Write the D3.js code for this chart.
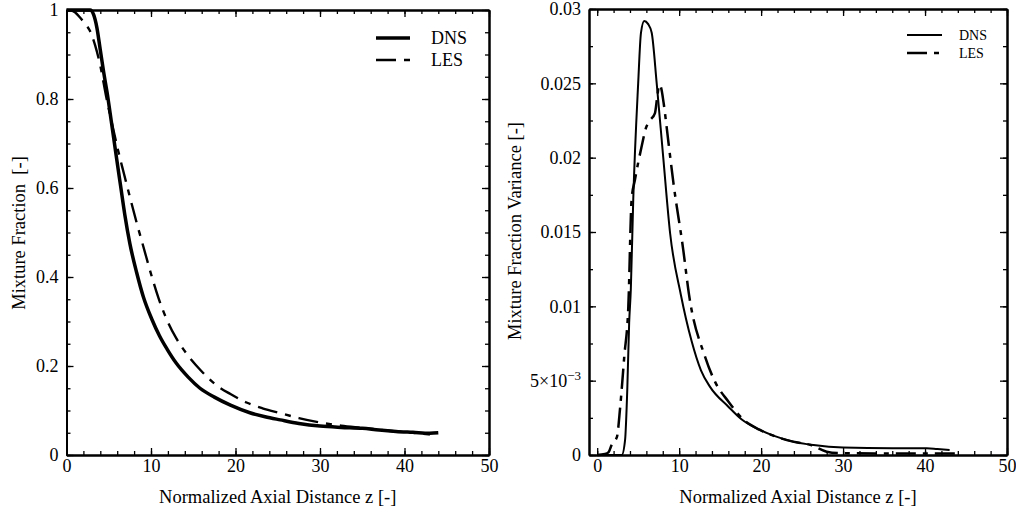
<!DOCTYPE html>
<html>
<head>
<meta charset="utf-8">
<script src="https://cdn.jsdelivr.net/npm/d3@7"></script>
<style>
  body { margin: 0; background: #fff; }
  svg text { font-family: 'Liberation Serif', serif; fill: #000; }
  .axis path, .axis line { stroke: #000; }
  .axis path { stroke-width: 2px; }
  .axis line { stroke-width: 1.3px; }
  .axis text { font-size: 18px; }
  .title { font-size: 18.5px; white-space: pre; }
</style>
</head>
<body>
<svg id="chart" width="1016" height="512" font-family="Liberation Serif"></svg>
<script>
// mean mixture fraction along the axis
const meanDnsZ = [0, 1, 2, 2.8, 3.2, 3.6, 4.0, 4.4, 4.8, 5.3, 5.9, 6.4, 6.9, 7.5, 8.3, 9.1, 10.1, 11, 11.9, 13, 14.4, 15.8, 17.5, 19.4, 21.7, 23.5, 25.3, 27.5, 30, 32.5, 35, 37, 39, 41, 43, 44];
const meanDns  = [1, 1, 1, 1, 0.99, 0.96, 0.91, 0.86, 0.815, 0.75, 0.67, 0.605, 0.54, 0.475, 0.41, 0.355, 0.305, 0.268, 0.238, 0.206, 0.175, 0.15, 0.13, 0.112, 0.095, 0.086, 0.079, 0.071, 0.065, 0.062, 0.06, 0.056, 0.053, 0.051, 0.049, 0.05];
const meanLesZ = [0, 0.5, 1, 1.6, 2.2, 2.8, 3.4, 4.0, 4.7, 5.5, 6.1, 6.8, 7.5, 8.3, 9.1, 10, 10.9, 11.9, 13, 14.2, 15.9, 17.8, 19.4, 21.3, 23.2, 25.3, 27.5, 30, 32.5, 35, 37, 39, 41, 43];
const meanLes  = [1, 0.999, 0.995, 0.983, 0.969, 0.952, 0.92, 0.875, 0.805, 0.735, 0.685, 0.632, 0.58, 0.522, 0.468, 0.407, 0.352, 0.303, 0.262, 0.228, 0.19, 0.156, 0.137, 0.118, 0.105, 0.094, 0.083, 0.073, 0.066, 0.061, 0.057, 0.053, 0.05, 0.046];

// mixture fraction variance along the axis
const varDnsZ = [0, 3.0, 3.4, 3.67, 3.9, 4.1, 4.4, 5.0, 5.34, 5.74, 6.2, 6.65, 7.26, 8.06, 8.9, 10.2, 11.5, 12.66, 13.75, 16, 17.6, 19.8, 21.5, 23.9, 26.4, 30, 36, 40.2, 41.5, 43];
const varDns  = [0, 0, 0.001, 0.0044, 0.0089, 0.0111, 0.0172, 0.025, 0.0284, 0.0292, 0.029, 0.0284, 0.025, 0.02, 0.0149, 0.0108, 0.0077, 0.0057, 0.0046, 0.00325, 0.0024, 0.0017, 0.0013, 0.0009, 0.00067, 0.0005, 0.00045, 0.00045, 0.0004, 0.00034];
const varLesZ = [0, 0.95, 1.4, 1.77, 2.4, 2.8, 3.3, 3.8, 4.2, 4.6, 5.4, 5.95, 6.44, 7.05, 7.33, 7.57, 7.8, 8.1, 8.7, 9.3, 10.5, 11.2, 13.1, 14.4, 16, 17.8, 19.8, 21.5, 23.9, 26, 28, 29.3, 35, 43.8];
const varLes  = [0, 0.00007, 0.0002, 0.0007, 0.0012, 0.0032, 0.0066, 0.01, 0.0172, 0.0185, 0.0207, 0.022, 0.0225, 0.023, 0.0241, 0.0249, 0.0247, 0.0237, 0.021, 0.0183, 0.0138, 0.0108, 0.0067, 0.0049, 0.0036, 0.0024, 0.0017, 0.0013, 0.0009, 0.00068, 0.00022, 0.00013, 0.0001, 0.0001];

const seriesNames = ['DNS', 'LES'];
const leftYTicks = [0, 0.2, 0.4, 0.6, 0.8, 1];
const leftYLabels = ['0', '0.2', '0.4', '0.6', '0.8', '1'];
const rightYTicks = [0, 0.005, 0.01, 0.015, 0.02, 0.025, 0.03];
const rightYLabels = ['0', '5×10|−3', '0.01', '0.015', '0.02', '0.025', '0.03'];
const xTicks = [0, 10, 20, 30, 40, 50];

const svg = d3.select('#chart');

function zip(zs, vs) { return zs.map((z, i) => ({ z: z, v: vs[i] })); }

// d3 axes put font-family="sans-serif" on their group, drop it
function axis(g, a) {
	g.call(a).attr('font-family', null).attr('font-size', null);
	return g;
}

function panel(o) {
	let x = d3.scaleLinear().domain(o.xDomain).range(o.xRange);
	let y = d3.scaleLinear().domain(o.yDomain).range(o.yRange);
	let [x0, x1] = o.xRange, [y0, y1] = o.yRange;
	let g = svg.append('g');

	let xMinor = d3.range(0, 50.1, 2), yMinor = d3.range(0, o.yDomain[1] + 1e-9, o.yMinor);
	let ax = (t) => g.append('g').attr('class', 'axis').attr('transform', t);

	// minor ticks on all four sides
	axis(ax(`translate(0,${y0})`), d3.axisBottom(x).tickValues(xMinor).tickFormat('').tickSize(-4).tickSizeOuter(0));
	axis(ax(`translate(0,${y1})`), d3.axisTop(x).tickValues(xMinor).tickFormat('').tickSize(-4).tickSizeOuter(0));
	axis(ax(`translate(${x0},0)`), d3.axisLeft(y).tickValues(yMinor).tickFormat('').tickSize(-4).tickSizeOuter(0));
	axis(ax(`translate(${x1},0)`), d3.axisRight(y).tickValues(yMinor).tickFormat('').tickSize(-4).tickSizeOuter(0));

	// major ticks
	axis(ax(`translate(0,${y0})`), d3.axisBottom(x).tickValues(xTicks).tickFormat(d3.format('d')).tickSize(-7).tickSizeOuter(0).tickPadding(4));
	axis(ax(`translate(0,${y1})`), d3.axisTop(x).tickValues(xTicks).tickFormat('').tickSize(-7).tickSizeOuter(0));
	let ya = axis(ax(`translate(${x0},0)`), d3.axisLeft(y).tickValues(o.yTicks).tickFormat((d, i) => o.yLabels[i]).tickSize(-7).tickSizeOuter(0).tickPadding(8));
	axis(ax(`translate(${x1},0)`), d3.axisRight(y).tickValues(o.yTicks).tickFormat('').tickSize(-7).tickSizeOuter(0));

	// superscript labels like 5×10^-3
	ya.selectAll('.tick text').each(function() {
		let t = d3.select(this), s = t.text();
		if (s.indexOf('|') < 0) return;
		let [base, exp] = s.split('|');
		t.text(null);
		t.append('tspan').text(base);
		t.append('tspan').attr('dy', '-0.5em').attr('font-size', '13px').text(exp);
	});

	let line = d3.line().x(d => x(d.z)).y(d => y(d.v)).curve(d3.curveMonotoneX);

	g.append('path').datum(o.dns).attr('d', line)
		.attr('fill', 'none').attr('stroke', '#000').attr('stroke-width', o.dnsW).attr('stroke-linejoin', 'round');
	g.append('path').datum(o.les).attr('d', line)
		.attr('fill', 'none').attr('stroke', '#000').attr('stroke-width', o.lesW).attr('stroke-dasharray', o.dash);

	// axis titles
	g.append('text').attr('class', 'title').attr('x', (x0 + x1) / 2).attr('y', 503)
		.attr('text-anchor', 'middle').text('Normalized Axial Distance z [-]');
	g.append('text').attr('class', 'title').attr('transform', `translate(${o.yTitleX},${o.yTitleY}) rotate(-90)`)
		.attr('text-anchor', 'middle').text(o.yTitle);

	// legend
	let lg = g.append('g').attr('transform', `translate(${o.legend[0]},${o.legend[1]})`);
	seriesNames.forEach((name, i) => {
		let row = lg.append('g').attr('transform', `translate(0,${i * o.legendGap})`);
		row.append('line').attr('x1', 0).attr('x2', o.legendLen).attr('y1', 0).attr('y2', 0)
			.attr('stroke', '#000').attr('stroke-width', i ? o.lesW : o.dnsW)
			.attr('stroke-dasharray', i ? o.dash : null);
		row.append('text').attr('x', o.legendLen + o.legendPad).attr('y', o.legendFont * 0.33)
			.attr('font-size', o.legendFont + 'px').text(name);
	});
}

panel({
	xDomain: [0, 50], xRange: [66.5, 489],
	yDomain: [0, 1], yRange: [455, 10], yMinor: 0.05,
	yTicks: leftYTicks, yLabels: leftYLabels,
	dns: zip(meanDnsZ, meanDns), les: zip(meanLesZ, meanLes),
	dnsW: 3.5, lesW: 2.4, dash: '20,8,6,8',
	yTitle: 'Mixture Fraction  [-]', yTitleX: 25, yTitleY: 233,
	legend: [376, 38], legendGap: 22, legendLen: 34, legendPad: 21, legendFont: 18
});

panel({
	xDomain: [-1, 50], xRange: [589, 1007],
	yDomain: [0, 0.03], yRange: [455, 9], yMinor: 0.0025,
	yTicks: rightYTicks, yLabels: rightYLabels,
	dns: zip(varDnsZ, varDns), les: zip(varLesZ, varLes),
	dnsW: 2, lesW: 2.5, dash: '20,7,5,7',
	yTitle: 'Mixture Fraction Variance [-]', yTitleX: 521, yTitleY: 231,
	legend: [907, 35], legendGap: 18, legendLen: 35, legendPad: 17, legendFont: 14
});
</script>
</body>
</html>
